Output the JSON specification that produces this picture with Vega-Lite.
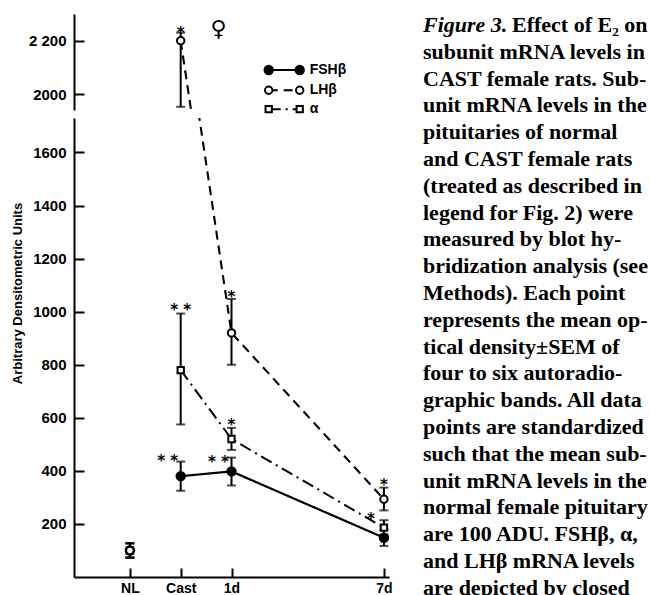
{
  "$schema": "https://vega.github.io/schema/vega-lite/v6.json",
  "background": "white",
  "padding": {"top": 13, "left": 11, "right": 0, "bottom": 0},
  "config": {
    "view": {"stroke": null},
    "axis": {"domainColor": "black", "domainWidth": 2, "tickColor": "black", "tickWidth": 2, "tickSize": -10, "labelColor": "black", "labelFont": "Liberation Sans", "labelFontSize": 15, "labelFontWeight": "bold", "labelPadding": 18, "grid": false, "titleColor": "black"}
  },
  "datasets": {
    "pts": [
      {"g": "FSHβ", "t": "NL", "order": 0, "v": 100, "lo": 72, "hi": 128},
      {"g": "FSHβ", "t": "Cast", "order": 1, "v": 380, "lo": 325, "hi": 435},
      {"g": "FSHβ", "t": "1d", "order": 2, "v": 398, "lo": 345, "hi": 450},
      {"g": "FSHβ", "t": "7d", "order": 3, "v": 148, "lo": 117, "hi": 178},
      {"g": "α", "t": "NL", "order": 0, "v": 100, "lo": 75, "hi": 125},
      {"g": "α", "t": "Cast", "order": 1, "v": 780, "lo": 575, "hi": 993},
      {"g": "α", "t": "1d", "order": 2, "v": 520, "lo": 479, "hi": 562},
      {"g": "α", "t": "7d", "order": 3, "v": 186, "lo": 160, "hi": 214},
      {"g": "LHβ", "t": "NL", "order": 0, "v": 100, "lo": 72, "hi": 128},
      {"g": "LHβ", "t": "Cast", "order": 1, "v": 2200, "lo": 1952, "hi": 2230},
      {"g": "LHβ", "t": "1d", "order": 2, "v": 920, "lo": 800, "hi": 1048},
      {"g": "LHβ", "t": "7d", "order": 3, "v": 293, "lo": 251, "hi": 337}
    ],
    "starsAbove": [
      {"t": "Cast", "v": 2244, "s": "*"},
      {"t": "Cast", "v": 1021, "s": "* *"},
      {"t": "1d", "v": 1069, "s": "*"},
      {"t": "1d", "v": 588, "s": "*"},
      {"t": "7d", "v": 362, "s": "*"}
    ],
    "starsLeft": [
      {"t": "Cast", "v": 452, "s": "* *"},
      {"t": "1d", "v": 450, "s": "* *"},
      {"t": "7d", "v": 233, "s": "*"}
    ],
    "female": [{"t": "1d", "v": 2244, "s": "♀"}],
    "legend": [
      {"g": "FSHβ", "ly": 2090},
      {"g": "LHβ", "ly": 2014},
      {"g": "α", "ly": 1943}
    ],
    "cap1": [{"line": 1, "lead": "Figure 3.", "text": "Effect of E₂ on"}],
    "caption": [
      {"line": 2, "text": "subunit mRNA levels in"},
      {"line": 3, "text": "CAST female rats. Sub-"},
      {"line": 4, "text": "unit mRNA levels in the"},
      {"line": 5, "text": "pituitaries of normal"},
      {"line": 6, "text": "and CAST female rats"},
      {"line": 7, "text": "(treated as described in"},
      {"line": 8, "text": "legend for Fig. 2) were"},
      {"line": 9, "text": "measured by blot hy-"},
      {"line": 10, "text": "bridization analysis (see"},
      {"line": 11, "text": "Methods). Each point"},
      {"line": 12, "text": "represents the mean op-"},
      {"line": 13, "text": "tical density±SEM of"},
      {"line": 14, "text": "four to six autoradio-"},
      {"line": 15, "text": "graphic bands. All data"},
      {"line": 16, "text": "points are standardized"},
      {"line": 17, "text": "such that the mean sub-"},
      {"line": 18, "text": "unit mRNA levels in the"},
      {"line": 19, "text": "normal female pituitary"},
      {"line": 20, "text": "are 100 ADU. FSHβ, α,"},
      {"line": 21, "text": "and LHβ mRNA levels"},
      {"line": 22, "text": "are depicted by closed"}
    ]
  },
  "spacing": 30,
  "hconcat": [
    {
      "spacing": 8,
      "bounds": "flush",
      "resolve": {"scale": {"x": "independent", "y": "independent"}},
      "vconcat": [
        {
          "width": 315,
          "height": 96,
          "encoding": {
            "x": {"field": "t", "type": "ordinal", "scale": {"type": "point", "domain": ["z", "NL", "Cast", "1d", "g1", "g2", "7d"], "padding": 0.1}, "axis": null}
          },
          "layer": [
            {
              "data": {"name": "pts"},
              "mark": {"type": "rule", "strokeWidth": 2, "color": "black", "clip": true},
              "encoding": {
                "y": {"field": "lo", "type": "quantitative", "scale": {"domain": [1940, 2300], "nice": false, "zero": false}, "axis": {"values": [2000, 2200], "format": "d", "title": null, "labelExpr": "datum.value == 2200 ? '2 200' : datum.label"}},
                "y2": {"field": "hi"}
              }
            },
            {
              "data": {"name": "pts"},
              "mark": {"type": "tick", "orient": "horizontal", "size": 9, "thickness": 2, "color": "black", "clip": true},
              "encoding": {"y": {"field": "lo", "type": "quantitative"}}
            },
            {
              "data": {"name": "pts"},
              "mark": {"type": "tick", "orient": "horizontal", "size": 9, "thickness": 2, "color": "black", "clip": true},
              "encoding": {"y": {"field": "hi", "type": "quantitative"}}
            },
            {
              "data": {"name": "pts"},
              "transform": [{"filter": "datum.t != 'NL'"}],
              "mark": {"type": "line", "color": "black", "clip": true},
              "encoding": {
                "y": {"field": "v", "type": "quantitative"},
                "detail": {"field": "g"},
                "order": {"field": "order", "type": "quantitative"},
                "strokeDash": {"field": "g", "type": "nominal", "scale": {"domain": ["FSHβ", "LHβ", "α"], "range": [[1, 0], [9, 6], [12, 5, 2, 5]]}, "legend": null},
                "strokeWidth": {"field": "g", "type": "nominal", "scale": {"domain": ["FSHβ", "LHβ", "α"], "range": [2.2, 2, 1.5]}, "legend": null}
              }
            },
            {
              "data": {"name": "pts"},
              "mark": {"type": "point", "filled": true, "stroke": "black", "strokeWidth": 2, "opacity": 1, "fillOpacity": 1, "clip": true},
              "encoding": {
                "y": {"field": "v", "type": "quantitative"},
                "shape": {"field": "g", "type": "nominal", "scale": {"domain": ["FSHβ", "LHβ", "α"], "range": ["circle", "circle", "square"]}, "legend": null},
                "fill": {"field": "g", "type": "nominal", "scale": {"domain": ["FSHβ", "LHβ", "α"], "range": ["black", "white", "white"]}, "legend": null},
                "size": {"field": "g", "type": "nominal", "scale": {"domain": ["FSHβ", "LHβ", "α"], "range": [70, 40, 45]}, "legend": null}
              }
            },
            {
              "data": {"name": "starsAbove"},
              "transform": [{"filter": "datum.v > 1940"}],
              "mark": {"type": "text", "font": "DejaVu Sans", "fontSize": 15, "fontWeight": "bold", "color": "black", "baseline": "middle", "dy": 4, "clip": true},
              "encoding": {"y": {"field": "v", "type": "quantitative"}, "text": {"field": "s"}}
            },
            {
              "data": {"name": "female"},
              "mark": {"type": "text", "font": "DejaVu Sans", "fontSize": 22, "fontWeight": "bold", "color": "black", "baseline": "middle", "dx": -13},
              "encoding": {"y": {"field": "v", "type": "quantitative"}, "text": {"field": "s"}}
            },
            {
              "data": {"name": "legend"},
              "mark": {"type": "rule", "color": "black", "xOffset": -13.6, "x2Offset": 17.4},
              "encoding": {
                "x": {"datum": "g1"},
                "x2": {"datum": "g1"},
                "y": {"field": "ly", "type": "quantitative"},
                "strokeDash": {"field": "g", "type": "nominal", "scale": {"domain": ["FSHβ", "LHβ", "α"], "range": [[1, 0], [11, 9], [11, 9]]}, "legend": null},
                "strokeWidth": {"field": "g", "type": "nominal", "scale": {"domain": ["FSHβ", "LHβ", "α"], "range": [2.2, 2, 2]}, "legend": null}
              }
            },
            {
              "data": {"name": "legend"},
              "mark": {"type": "point", "filled": true, "stroke": "black", "strokeWidth": 2, "opacity": 1, "fillOpacity": 1, "xOffset": -13.6},
              "encoding": {
                "x": {"datum": "g1"},
                "y": {"field": "ly", "type": "quantitative"},
                "shape": {"field": "g", "type": "nominal", "scale": {"domain": ["FSHβ", "LHβ", "α"], "range": ["circle", "circle", "square"]}, "legend": null},
                "fill": {"field": "g", "type": "nominal", "scale": {"domain": ["FSHβ", "LHβ", "α"], "range": ["black", "white", "white"]}, "legend": null},
                "size": {"field": "g", "type": "nominal", "scale": {"domain": ["FSHβ", "LHβ", "α"], "range": [70, 40, 45]}, "legend": null}
              }
            },
            {
              "data": {"name": "legend"},
              "mark": {"type": "point", "filled": true, "stroke": "black", "strokeWidth": 2, "opacity": 1, "fillOpacity": 1, "xOffset": 17.4},
              "encoding": {
                "x": {"datum": "g1"},
                "y": {"field": "ly", "type": "quantitative"},
                "shape": {"field": "g", "type": "nominal", "scale": {"domain": ["FSHβ", "LHβ", "α"], "range": ["circle", "circle", "square"]}, "legend": null},
                "fill": {"field": "g", "type": "nominal", "scale": {"domain": ["FSHβ", "LHβ", "α"], "range": ["black", "white", "white"]}, "legend": null},
                "size": {"field": "g", "type": "nominal", "scale": {"domain": ["FSHβ", "LHβ", "α"], "range": [70, 40, 45]}, "legend": null}
              }
            },
            {
              "data": {"name": "legend"},
              "mark": {"type": "text", "font": "Liberation Sans", "fontSize": 14, "fontWeight": "bold", "color": "black", "align": "left", "baseline": "middle", "dx": 27.4},
              "encoding": {
                "x": {"datum": "g1"},
                "y": {"field": "ly", "type": "quantitative"},
                "text": {"field": "g"}
              }
            }
          ]
        },
        {
          "width": 315,
          "height": 459,
          "encoding": {
            "x": {"field": "t", "type": "ordinal", "scale": {"type": "point", "domain": ["z", "NL", "Cast", "1d", "g1", "g2", "7d"], "padding": 0.1}, "axis": {"values": ["NL", "Cast", "1d", "7d"], "title": null, "labelAngle": 0, "labelFontSize": 14, "labelPadding": 13, "tickSize": -9}}
          },
          "layer": [
            {
              "data": {"name": "pts"},
              "mark": {"type": "rule", "strokeWidth": 2, "color": "black", "clip": true},
              "encoding": {
                "y": {"field": "lo", "type": "quantitative", "scale": {"domain": [0, 1730], "nice": false}, "axis": {"values": [200, 400, 600, 800, 1000, 1200, 1400, 1600], "format": "d", "title": "Arbitrary Densitometric Units", "titleFont": "Liberation Sans", "titleFontSize": 13, "titleFontWeight": "bold", "titlePadding": 8, "titleY": 175}},
                "y2": {"field": "hi"}
              }
            },
            {
              "data": {"name": "pts"},
              "mark": {"type": "tick", "orient": "horizontal", "size": 9, "thickness": 2, "color": "black", "clip": true},
              "encoding": {"y": {"field": "lo", "type": "quantitative"}}
            },
            {
              "data": {"name": "pts"},
              "mark": {"type": "tick", "orient": "horizontal", "size": 9, "thickness": 2, "color": "black", "clip": true},
              "encoding": {"y": {"field": "hi", "type": "quantitative"}}
            },
            {
              "data": {"name": "pts"},
              "transform": [{"filter": "datum.t != 'NL'"}],
              "mark": {"type": "line", "color": "black", "clip": true},
              "encoding": {
                "y": {"field": "v", "type": "quantitative"},
                "detail": {"field": "g"},
                "order": {"field": "order", "type": "quantitative"},
                "strokeDash": {"field": "g", "type": "nominal", "scale": {"domain": ["FSHβ", "LHβ", "α"], "range": [[1, 0], [9, 6], [12, 5, 2, 5]]}, "legend": null},
                "strokeWidth": {"field": "g", "type": "nominal", "scale": {"domain": ["FSHβ", "LHβ", "α"], "range": [2.2, 2, 1.5]}, "legend": null}
              }
            },
            {
              "data": {"name": "pts"},
              "mark": {"type": "point", "filled": true, "stroke": "black", "strokeWidth": 2, "opacity": 1, "fillOpacity": 1, "clip": true},
              "encoding": {
                "y": {"field": "v", "type": "quantitative"},
                "shape": {"field": "g", "type": "nominal", "scale": {"domain": ["FSHβ", "LHβ", "α"], "range": ["circle", "circle", "square"]}, "legend": null},
                "fill": {"field": "g", "type": "nominal", "scale": {"domain": ["FSHβ", "LHβ", "α"], "range": ["black", "white", "white"]}, "legend": null},
                "size": {"field": "g", "type": "nominal", "scale": {"domain": ["FSHβ", "LHβ", "α"], "range": [70, 40, 45]}, "legend": null}
              }
            },
            {
              "data": {"name": "starsAbove"},
              "transform": [{"filter": "datum.v < 1730"}],
              "mark": {"type": "text", "font": "DejaVu Sans", "fontSize": 15, "fontWeight": "bold", "color": "black", "baseline": "middle", "dy": 4, "clip": true},
              "encoding": {"y": {"field": "v", "type": "quantitative"}, "text": {"field": "s"}}
            },
            {
              "data": {"name": "starsLeft"},
              "mark": {"type": "text", "font": "DejaVu Sans", "fontSize": 15, "fontWeight": "bold", "color": "black", "baseline": "middle", "dy": 4, "dx": -13, "clip": true},
              "encoding": {"y": {"field": "v", "type": "quantitative"}, "text": {"field": "s"}}
            }
          ]
        }
      ]
    },
    {
      "width": 226,
      "height": 582,
      "encoding": {
        "x": {"datum": 0, "type": "quantitative", "scale": {"domain": [0, 1]}, "axis": null},
        "y": {"field": "line", "type": "quantitative", "scale": {"domain": [0.59, 22.31], "reverse": true, "nice": false, "zero": false}, "axis": null}
      },
      "layer": [
        {
          "data": {"name": "caption"},
          "mark": {"type": "text", "align": "left", "baseline": "middle", "font": "Liberation Serif", "fontSize": 22, "fontWeight": "bold", "color": "black"},
          "encoding": {"text": {"field": "text"}}
        },
        {
          "data": {"name": "cap1"},
          "mark": {"type": "text", "align": "left", "baseline": "middle", "font": "Liberation Serif", "fontSize": 22, "fontWeight": "bold", "fontStyle": "italic", "color": "black"},
          "encoding": {"text": {"field": "lead"}}
        },
        {
          "data": {"name": "cap1"},
          "mark": {"type": "text", "align": "left", "baseline": "middle", "font": "Liberation Serif", "fontSize": 22, "fontWeight": "bold", "color": "black", "dx": 89},
          "encoding": {"text": {"field": "text"}}
        }
      ]
    }
  ]
}
